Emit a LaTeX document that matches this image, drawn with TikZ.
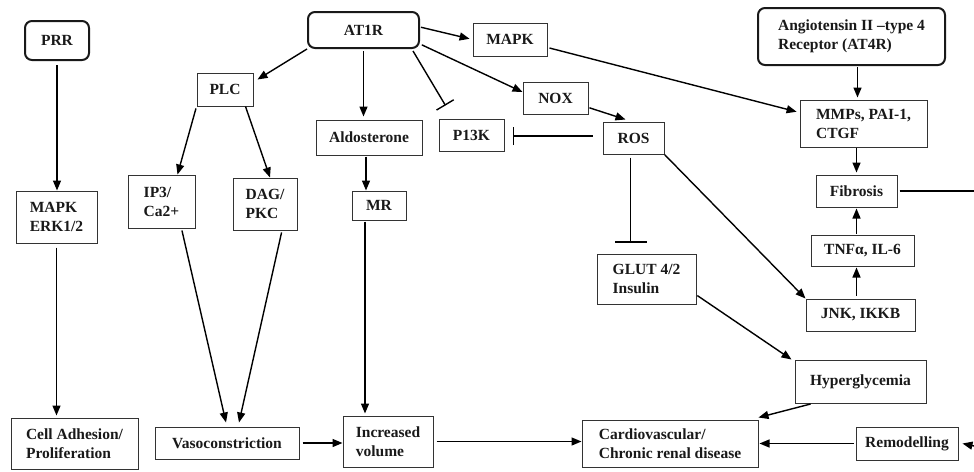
\documentclass[tikz,border=0pt]{standalone}
\usepackage{fontspec}
\setmainfont{Liberation Serif}
\usetikzlibrary{arrows.meta}

\begin{document}
\begin{tikzpicture}[x=1pt,y=-1pt,
    font=\fontsize{15.5}{19}\selectfont\bfseries,
    box/.style={draw=black!80, line width=1pt, inner sep=0pt, align=left, text=black!90},
    rbox/.style={draw=black!90, line width=2pt, rounded corners=7pt, inner sep=0pt, align=left, text=black!90},
    arr/.style={line width=1.4pt, -{Triangle[length=10pt,width=8pt]}},
    inhib/.style={line width=1.4pt, -{Bar[width=#1]}}, inhib/.default=18pt]
    \useasboundingbox (0,0) rectangle (974,471);

    % receptors
    \node[rbox, minimum width=64pt, minimum height=39pt] (prr) at (57,40.5) {PRR};
    \node[rbox, minimum width=111pt, minimum height=36pt] (at1r) at (363.5,30) {AT1R};
    \node[rbox, minimum width=187pt, minimum height=57pt] (at4r) at (851.5,36.5) {Angiotensin II --type 4\\Receptor (AT4R)};

    % signalling boxes
    \node[box, minimum width=56pt, minimum height=33pt] (plc) at (225,89.5) {PLC};
    \node[box, minimum width=74pt, minimum height=33pt] (mapk) at (510,39.5) {MAPK};
    \node[box, minimum width=65pt, minimum height=32pt] (nox) at (555.5,98) {NOX};
    \node[box, minimum width=61pt, minimum height=32pt] (ros) at (633.5,138) {ROS};
    \node[box, minimum width=65pt, minimum height=32pt] (p13k) at (471.5,135) {P13K};
    \node[box, minimum width=106pt, minimum height=35pt] (aldo) at (369,137.5) {Aldosterone};
    \node[box, minimum width=54pt, minimum height=29pt] (mr) at (379,205.5) {MR};
    \node[box, minimum width=127pt, minimum height=47pt] (mmps) at (863.5,123.5) {MMPs, PAI-1,\\CTGF};
    \node[box, minimum width=81pt, minimum height=32pt] (fib) at (856.5,191) {Fibrosis};
    \node[box, minimum width=67pt, minimum height=53pt] (ip3) at (161.5,201.5) {IP3/\\Ca2+};
    \node[box, minimum width=64pt, minimum height=52pt] (dag) at (265,204) {DAG/\\PKC};
    \node[box, minimum width=81pt, minimum height=52pt] (erk) at (56.5,217) {MAPK\\ERK1/2};
    \node[box, minimum width=103pt, minimum height=31pt] (tnf) at (862.5,250.5) {TNFα, IL-6};
    \node[box, minimum width=99pt, minimum height=50pt] (glut) at (646.5,279) {GLUT 4/2\\Insulin};
    \node[box, minimum width=109pt, minimum height=32pt] (jnk) at (860.5,315) {JNK, IKKB};
    \node[box, minimum width=131pt, minimum height=43pt] (hyper) at (860.5,381.5) {Hyperglycemia};

    % outcomes
    \node[box, minimum width=127pt, minimum height=51pt] (cell) at (74.5,443.5) {Cell Adhesion/\\Proliferation};
    \node[box, minimum width=144pt, minimum height=32pt] (vaso) at (227,443) {Vasoconstriction};
    \node[box, minimum width=90pt, minimum height=51pt] (incvol) at (388,441.5) {Increased\\volume};
    \node[box, minimum width=176pt, minimum height=47pt] (cvd) at (670,443.5) {Cardiovascular/\\Chronic renal disease};
    \node[box, minimum width=102pt, minimum height=33pt] (remod) at (907,443.5) {Remodelling};

    % links leaving the picture on the right
    \coordinate (fibout) at (974,191);
    \coordinate (remin) at (974,446);

    % PRR branch
    \draw[arr, shorten <=4pt] (prr.south) -- (prr.south |- erk.north);
    \draw[arr, shorten <=4pt, shorten >=2pt] (erk.south) -- (erk.south |- cell.north);

    % AT1R branches
    \draw[arr] (at1r.south west) -- ([shift={(4pt,-7pt)}]plc.north east);
    \draw[arr, shorten <=2pt] (plc.south west) -- ([xshift=16pt]ip3.north);
    \draw[arr] ([xshift=-8pt]plc.south east) -- ([xshift=5pt]dag.north);
    \draw[arr, shorten <=2pt] ([xshift=20pt]ip3.south) -- ([shift={(-1pt,4pt)}]vaso.north);
    \draw[arr, shorten <=2pt] ([xshift=17pt]dag.south) -- ([shift={(12pt,4pt)}]vaso.north);
    \draw[arr, shorten <=2pt, shorten >=3pt] (at1r.south) -- (at1r.south |- aldo.north);
    \draw[arr, shorten <=1pt] ([xshift=-3pt]aldo.south) -- ([xshift=-3pt]aldo.south |- mr.north);
    \draw[arr, shorten <=1pt, shorten >=2pt] ([xshift=-14pt]mr.south) -- ([xshift=-14pt]mr.south |- incvol.north);
    \draw[arr, shorten <=3pt] (vaso.east) -- (vaso.east -| incvol.west);
    \draw[arr, shorten <=3pt] (incvol.east) -- (incvol.east -| cvd.west);
    \draw[inhib=20pt] ([shift={(-7pt,-2pt)}]at1r.south east) -- ([shift={(7pt,13pt)}]p13k.north west);
    \draw[arr, shorten <=1pt, shorten >=3pt] ([yshift=3pt]at1r.east) -- (mapk.west);
    \draw[arr, shorten <=2pt] ([yshift=-14pt]at1r.east) -- ([yshift=6pt]nox.west);
    \draw[arr, shorten <=1pt] ([yshift=7pt]nox.south east) -- ([shift={(-8pt,2pt)}]ros.north);

    % ROS and fibrosis
    \draw[inhib, shorten <=10pt] ([yshift=2pt]ros.west) -- ([xshift=8pt,yshift=2pt]p13k.east |- ros.west);
    \draw[inhib=32pt, shorten <=3pt] ([xshift=-3pt]ros.south) -- ([xshift=-3pt,yshift=11pt]ros.south |- glut.north);
    \draw[arr] (ros.south east) -- (jnk.north west);
    \draw[arr, shorten <=2pt, shorten >=3pt] ([yshift=-8pt]mapk.east) -- ([yshift=11pt]mmps.west);
    \draw[arr, shorten <=1pt, shorten >=2pt] ([xshift=6pt]at4r.south) -- ([xshift=6pt]at4r.south |- mmps.north);
    \draw[arr, shorten >=2pt] (fib.north |- mmps.south) -- (fib.north);
    \draw[arr, shorten <=1pt, shorten >=1pt] (fib.south |- tnf.north) -- (fib.south);
    \draw[arr, shorten <=3pt, shorten >=1pt] ([xshift=-4pt]jnk.north) -- ([xshift=-4pt]jnk.north |- tnf.south);
    \draw[line width=1.4pt, shorten <=2pt] (fib.east) -- (fibout);

    % towards cardiovascular disease
    \draw[arr, shorten <=1pt] ([yshift=-16pt]glut.east) -- ([xshift=-3pt]hyper.north west);
    \draw[arr, shorten <=2pt] ([xshift=18pt]hyper.south west) -- ([yshift=2pt]cvd.north east);
    \draw[arr, shorten <=2pt, shorten >=1pt] (remod.west) -- (cvd.east);
    \draw[arr] (remin) -- ([xshift=4pt]remod.east);
\end{tikzpicture}
\end{document}
